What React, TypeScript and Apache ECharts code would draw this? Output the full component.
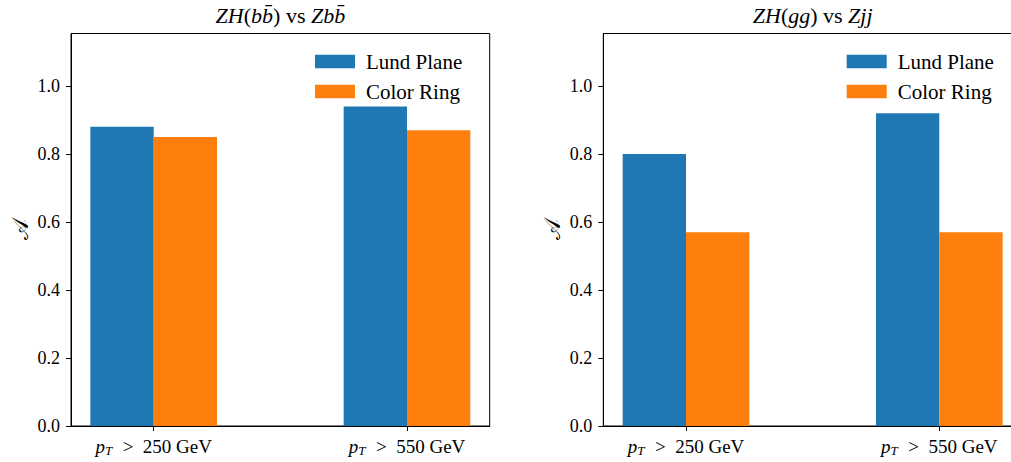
import React, { useEffect, useRef } from "react";
import * as echarts from "echarts";

const categories = ["250", "550"];
const seriesNames = ["Lund Plane", "Color Ring"];
const bbLund = [0.88, 0.94];
const bbColor = [0.85, 0.87];
const ggLund = [0.8, 0.92];
const ggColor = [0.57, 0.57];
const yTicks = [0, 0.2, 0.4, 0.6, 0.8, 1.0];

const COLORS = ["#1f77b4", "#ff7f0e"];
const FONT = "Liberation Serif";
const BAR_W = 0.25;

function barSeries(name: string, values: number[], idx: number, color: string, offset: number) {
  return {
    type: "custom",
    name,
    xAxisIndex: idx,
    yAxisIndex: idx,
    itemStyle: { color },
    data: values.map((v, i) => [i, v]),
    renderItem: (_p: any, api: any) => {
      const c = api.value(0) + offset;
      const p0 = api.coord([c - BAR_W / 2, 0]);
      const p1 = api.coord([c + BAR_W / 2, api.value(1)]);
      return {
        type: "rect",
        shape: { x: p0[0], y: p1[1], width: p1[0] - p0[0], height: p0[1] - p1[1] },
        style: { fill: color },
      };
    },
  };
}

const richX = {
  i: { fontFamily: FONT, fontStyle: "italic", fontSize: 19, color: "#000" },
  s: { fontFamily: FONT, fontStyle: "italic", fontSize: 13, color: "#000", padding: [9, 1, 0, 0] },
  r: { fontFamily: FONT, fontSize: 19, color: "#000" },
};

const richT = {
  m: { fontFamily: FONT, fontStyle: "italic", fontWeight: "normal", fontSize: 22, color: "#000" },
  r: { fontFamily: FONT, fontWeight: "normal", fontSize: 22, color: "#000" },
};

export default function App() {
  const ref = useRef<HTMLDivElement>(null);
  useEffect(() => {
    if (!ref.current) return;
    const chart = echarts.init(ref.current, null, { renderer: "svg" });
    const grids = [
      { left: 71, top: 33.5, width: 418.7, height: 392.5 },
      { left: 603.3, top: 33.5, width: 418.7, height: 392.5 },
    ];
    const xAxis = grids.map((_, gi) => ({
      type: "value",
      gridIndex: gi,
      min: -0.3265,
      max: 1.3265,
      splitLine: { show: false },
      axisLine: { show: true, onZero: false, lineStyle: { color: "#000", width: 1 } },
      axisTick: { show: true, customValues: [0, 1], length: 5, lineStyle: { color: "#000" } },
      axisLabel: {
        customValues: [0, 1],
        margin: 9,
        formatter: (v: number) => `{i|p}{s|T}{r|  >  ${categories[Math.round(v)]} GeV}`,
        rich: richX,
      },
    }));
    const yAxis = grids.map((_, gi) => ({
      type: "value",
      gridIndex: gi,
      min: 0,
      max: 1.1545,
      name: "𝒜",
      nameLocation: "middle",
      nameRotate: 90,
      nameGap: 40,
      nameTextStyle: { fontFamily: FONT, fontSize: 22, color: "#000" },
      splitLine: { show: false },
      axisLine: { show: true, onZero: false, lineStyle: { color: "#000", width: 1 } },
      axisTick: { show: true, customValues: yTicks, length: 5, lineStyle: { color: "#000" } },
      axisLabel: {
        customValues: yTicks,
        margin: 11,
        fontFamily: FONT,
        fontSize: 18,
        color: "#000",
        formatter: (v: number) => v.toFixed(1),
      },
    }));
    const legendCommon = {
      orient: "vertical",
      top: 51,
      padding: 0,
      itemWidth: 40,
      itemHeight: 13.4,
      itemGap: 9,
      icon: "rect",
      data: seriesNames,
      selectedMode: false,
      textStyle: { fontFamily: FONT, fontSize: 21, color: "#000", lineHeight: 20, padding: [0, 0, 0, 6] },
    };
    chart.setOption({
      animation: false,
      backgroundColor: "#fff",
      grid: grids.map((g) => ({
        ...g,
        show: true,
        borderColor: "#000",
        borderWidth: 1,
        backgroundColor: "transparent",
        outerBoundsMode: "none",
      })),
      title: [
        {
          text: "{m|ZH}{r|(}{m|bb\u0304}{r|) vs }{m|Zbb\u0304}",
          left: 280.4,
          top: 4,
          textAlign: "center",
          padding: 0,
          textStyle: { fontWeight: "normal", rich: richT },
        },
        {
          text: "{m|ZH}{r|(}{m|gg}{r|) vs }{m|Zjj}",
          left: 812.7,
          top: 4,
          textAlign: "center",
          padding: 0,
          textStyle: { fontWeight: "normal", rich: richT },
        },
      ],
      legend: [
        { ...legendCommon, left: 315 },
        { ...legendCommon, left: 846.7 },
      ],
      xAxis,
      yAxis,
      series: [
        barSeries(seriesNames[0], bbLund, 0, COLORS[0], -0.125),
        barSeries(seriesNames[1], bbColor, 0, COLORS[1], 0.125),
        barSeries(seriesNames[0], ggLund, 1, COLORS[0], -0.125),
        barSeries(seriesNames[1], ggColor, 1, COLORS[1], 0.125),
      ],
    });
    return () => chart.dispose();
  }, []);
  return (
    <div
      ref={ref}
      style={{ position: "fixed", left: 0, top: 0, width: 1040, height: 462, background: "#fff" }}
    />
  );
}
